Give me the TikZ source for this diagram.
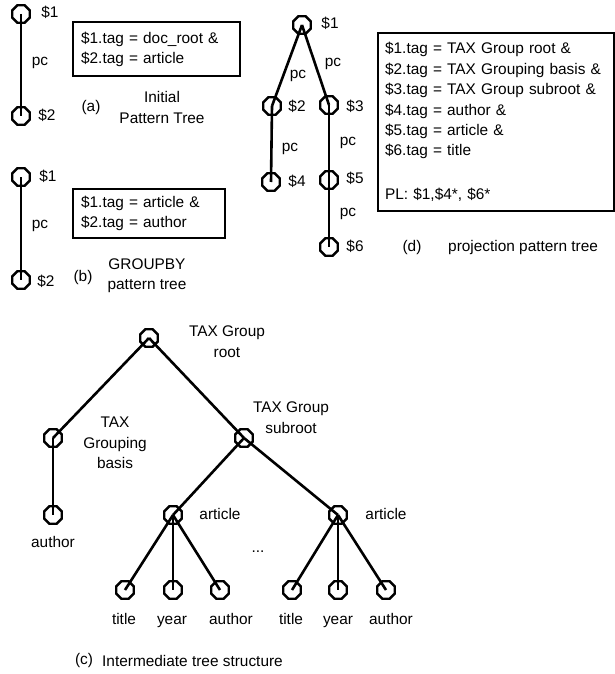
\documentclass[tikz,border=0pt]{standalone}
\usepackage{fontspec}
\setmainfont{Liberation Sans}
\usetikzlibrary{shapes.geometric}
\begin{document}
\begin{tikzpicture}[x=1pt,y=-1pt,
  tn/.style={draw, regular polygon, regular polygon sides=8, minimum size=19pt, inner sep=0pt, line width=2.4pt},
  edge/.style={line width=2.6pt},
  lbl/.style={inner sep=0pt, align=center, font=\fontsize{15.4}{20.5}\selectfont},
  sl/.style={inner sep=0pt, text height=11pt, text depth=3pt, font=\fontsize{15.4}{20.5}\selectfont},
  box/.style={draw, line width=2.2pt, align=left, anchor=north west, inner ysep=0pt, font=\fontsize{15.4}{20.4}\selectfont}]
\useasboundingbox (0,0) rectangle (615,674);

% (a)
\node[tn] (a1) at (21,14) {};
\node[tn] (a2) at (21,116) {};
\draw[edge] (a1.center) -- (a2.center);
\node[sl] (a1l) at (50,14) {\$1};
\node[sl] (a2l) at (47,117) {\$2};
\node[sl] (apc) at (40,62) {pc};
\node[box, text width=151pt, inner xsep=8pt, minimum height=54pt] (abox) at (72,21) {\$1.tag = doc\_root \&\\\$2.tag = article};
\node[sl] (acap) at (91,107) {(a)};
\node[lbl] (atitle) at (162,107.5) {Initial\\Pattern Tree};

% (b)
\node[tn] (b1) at (21,177) {};
\node[tn] (b2) at (21,280) {};
\draw[edge] (b1.center) -- (b2.center);
\node[sl] (b1l) at (48,177) {\$1};
\node[sl] (b2l) at (46,282) {\$2};
\node[sl] (bpc) at (40,224) {pc};
\node[box, text width=136pt, inner xsep=8pt, minimum height=49pt] (bbox) at (72,188) {\$1.tag = article \&\\\$2.tag = author};
\node[sl] (bcap) at (83,277) {(b)};
\node[lbl] (btitle) at (147,275.5) {GROUPBY\\pattern tree};

% (d)
\node[tn] (d1) at (302,25) {};
\node[tn] (d2) at (272,106) {};
\node[tn] (d3) at (329,105) {};
\node[tn] (d4) at (271,182) {};
\node[tn] (d5) at (329,180) {};
\node[tn] (d6) at (329,247) {};
\draw[edge] (d1.center) -- (d2.center);
\draw[edge] (d1.center) -- (d3.center);
\draw[edge] (d2.center) -- (d4.center);
\draw[edge] (d3.center) -- (d5.center);
\draw[edge] (d5.center) -- (d6.center);
\node[sl] (d1l) at (330,25) {\$1};
\node[sl] (d2l) at (297,108) {\$2};
\node[sl] (d3l) at (355,107) {\$3};
\node[sl] (d4l) at (297,182) {\$4};
\node[sl] (d5l) at (355,179) {\$5};
\node[sl] (d6l) at (355,247) {\$6};
\node[sl] (dpc1) at (298,75) {pc};
\node[sl] (dpc2) at (333,63) {pc};
\node[sl] (dpc3) at (290,147) {pc};
\node[sl] (dpc4) at (348,142) {pc};
\node[sl] (dpc5) at (348,212) {pc};
\node[box, text width=222pt, inner xsep=7pt, minimum height=178pt] (dbox) at (377,32)
 {\$1.tag = TAX Group root \&\\
  \$2.tag = TAX Grouping basis \&\\
  \$3.tag = TAX Group subroot \&\\
  \$4.tag = author \&\\
  \$5.tag = article \&\\
  \$6.tag = title\\[23.5pt]
  PL: \$1,\$4*, \$6*};
\node[sl] (dcap) at (412,247) {(d)};
\node[sl, anchor=west] (dtitle) at (448,247) {projection pattern tree};

% (c)
\node[tn] (c0) at (149,338) {};
\node[tn] (cl) at (53,438) {};
\node[tn] (cr) at (244,438) {};
\node[tn] (cla) at (53,515) {};
\node[tn] (ar1) at (173,515) {};
\node[tn] (ar2) at (338,515) {};
\node[tn] (l1) at (125,590) {};
\node[tn] (l2) at (173,590) {};
\node[tn] (l3) at (220,590) {};
\node[tn] (l4) at (292,590) {};
\node[tn] (l5) at (338,590) {};
\node[tn] (l6) at (386,590) {};
\draw[edge] (c0.center) -- (cl.center);
\draw[edge] (c0.center) -- (cr.center);
\draw[edge] (cl.center) -- (cla.center);
\draw[edge] (cr.center) -- (ar1.center);
\draw[edge] (cr.center) -- (ar2.center);
\draw[edge] (ar1.center) -- (l1.center);
\draw[edge] (ar1.center) -- (l2.center);
\draw[edge] (ar1.center) -- (l3.center);
\draw[edge] (ar2.center) -- (l4.center);
\draw[edge] (ar2.center) -- (l5.center);
\draw[edge] (ar2.center) -- (l6.center);
\node[lbl] (c0l) at (227,341.5) {TAX Group\\root};
\node[lbl] (cll) at (115,443) {TAX\\Grouping\\basis};
\node[lbl] (crl) at (291,417.5) {TAX Group\\subroot};
\node[sl] (ar1l) at (220,515) {article};
\node[sl] (ar2l) at (386,515) {article};
\node[sl] (dots) at (258,548) {...};
\node[sl] (clal) at (53,543) {author};
\node[sl] (l1l) at (124,620) {title};
\node[sl] (l2l) at (172,620) {year};
\node[sl] (l3l) at (231,620) {author};
\node[sl] (l4l) at (291,620) {title};
\node[sl] (l5l) at (338,620) {year};
\node[sl] (l6l) at (391,620) {author};
\node[sl] (ccap) at (84,660) {(c)};
\node[sl, anchor=west] (ctitle) at (102,662) {Intermediate tree structure};
\end{tikzpicture}
\end{document}
